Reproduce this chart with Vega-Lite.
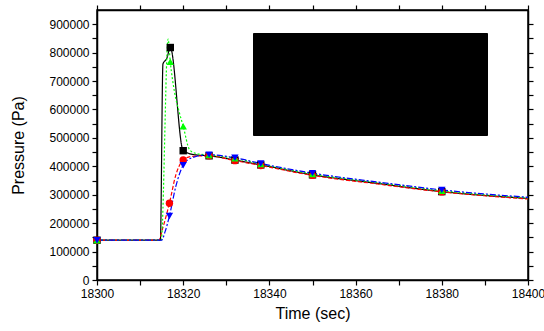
{
  "$schema": "https://vega.github.io/schema/vega-lite/v6.json",
  "autosize": {"type": "none"},
  "width": 431,
  "height": 270,
  "padding": {"left": 97, "top": 10, "right": 16, "bottom": 51},
  "background": "white",
  "config": {
    "font": "Liberation Sans",
    "view": {"stroke": "black", "strokeWidth": 1.5},
    "axis": {
      "labelColor": "black", "titleColor": "black", "tickColor": "black", "domainColor": "black",
      "labelFontSize": 12, "titleFontSize": 16, "titleFontWeight": "normal",
      "grid": false, "domainWidth": 1.5, "tickWidth": 1.2, "labelFont": "Liberation Sans", "titleFont": "Liberation Sans"
    }
  },
  "datasets": {
    "curves": [
      {"t": 18300, "p": 140000, "series": "cell-1 (Base case)"},
      {"t": 18310, "p": 140000, "series": "cell-1 (Base case)"},
      {"t": 18314.7, "p": 140000, "series": "cell-1 (Base case)"},
      {"t": 18315.3, "p": 760000, "series": "cell-1 (Base case)"},
      {"t": 18316.2, "p": 780000, "series": "cell-1 (Base case)"},
      {"t": 18317, "p": 818000, "series": "cell-1 (Base case)"},
      {"t": 18320, "p": 455000, "series": "cell-1 (Base case)"},
      {"t": 18323, "p": 440000, "series": "cell-1 (Base case)"},
      {"t": 18326, "p": 437000, "series": "cell-1 (Base case)"},
      {"t": 18332, "p": 422000, "series": "cell-1 (Base case)"},
      {"t": 18338, "p": 405000, "series": "cell-1 (Base case)"},
      {"t": 18350, "p": 370000, "series": "cell-1 (Base case)"},
      {"t": 18365, "p": 340000, "series": "cell-1 (Base case)"},
      {"t": 18380, "p": 311000, "series": "cell-1 (Base case)"},
      {"t": 18400, "p": 287000, "series": "cell-1 (Base case)"},

      {"t": 18300, "p": 140000, "series": "cell-4 (Base case)"},
      {"t": 18310, "p": 140000, "series": "cell-4 (Base case)"},
      {"t": 18314.3, "p": 140000, "series": "cell-4 (Base case)"},
      {"t": 18315.3, "p": 185000, "series": "cell-4 (Base case)"},
      {"t": 18316.8, "p": 270000, "series": "cell-4 (Base case)"},
      {"t": 18318.3, "p": 370000, "series": "cell-4 (Base case)"},
      {"t": 18320, "p": 422000, "series": "cell-4 (Base case)"},
      {"t": 18322, "p": 435000, "series": "cell-4 (Base case)"},
      {"t": 18326, "p": 437000, "series": "cell-4 (Base case)"},
      {"t": 18332, "p": 420000, "series": "cell-4 (Base case)"},
      {"t": 18338, "p": 403000, "series": "cell-4 (Base case)"},
      {"t": 18350, "p": 368000, "series": "cell-4 (Base case)"},
      {"t": 18365, "p": 338000, "series": "cell-4 (Base case)"},
      {"t": 18380, "p": 310000, "series": "cell-4 (Base case)"},
      {"t": 18400, "p": 285000, "series": "cell-4 (Base case)"},

      {"t": 18300, "p": 140000, "series": "cell-1 (coherence ratio=1)"},
      {"t": 18310, "p": 140000, "series": "cell-1 (coherence ratio=1)"},
      {"t": 18314.9, "p": 140000, "series": "cell-1 (coherence ratio=1)"},
      {"t": 18316.5, "p": 848000, "series": "cell-1 (coherence ratio=1)"},
      {"t": 18317, "p": 768000, "series": "cell-1 (coherence ratio=1)"},
      {"t": 18318, "p": 660000, "series": "cell-1 (coherence ratio=1)"},
      {"t": 18319, "p": 595000, "series": "cell-1 (coherence ratio=1)"},
      {"t": 18320, "p": 541000, "series": "cell-1 (coherence ratio=1)"},
      {"t": 18321.5, "p": 458000, "series": "cell-1 (coherence ratio=1)"},
      {"t": 18323, "p": 445000, "series": "cell-1 (coherence ratio=1)"},
      {"t": 18326, "p": 440000, "series": "cell-1 (coherence ratio=1)"},
      {"t": 18332, "p": 428000, "series": "cell-1 (coherence ratio=1)"},
      {"t": 18338, "p": 408000, "series": "cell-1 (coherence ratio=1)"},
      {"t": 18350, "p": 373000, "series": "cell-1 (coherence ratio=1)"},
      {"t": 18365, "p": 343000, "series": "cell-1 (coherence ratio=1)"},
      {"t": 18380, "p": 314000, "series": "cell-1 (coherence ratio=1)"},
      {"t": 18400, "p": 289000, "series": "cell-1 (coherence ratio=1)"},

      {"t": 18300, "p": 140000, "series": "cell-4 (coherence ratio=1)"},
      {"t": 18310, "p": 140000, "series": "cell-4 (coherence ratio=1)"},
      {"t": 18315, "p": 140000, "series": "cell-4 (coherence ratio=1)"},
      {"t": 18315.8, "p": 170000, "series": "cell-4 (coherence ratio=1)"},
      {"t": 18316.8, "p": 225000, "series": "cell-4 (coherence ratio=1)"},
      {"t": 18318.3, "p": 330000, "series": "cell-4 (coherence ratio=1)"},
      {"t": 18320, "p": 404000, "series": "cell-4 (coherence ratio=1)"},
      {"t": 18322, "p": 430000, "series": "cell-4 (coherence ratio=1)"},
      {"t": 18326, "p": 441000, "series": "cell-4 (coherence ratio=1)"},
      {"t": 18332, "p": 430000, "series": "cell-4 (coherence ratio=1)"},
      {"t": 18338, "p": 410000, "series": "cell-4 (coherence ratio=1)"},
      {"t": 18350, "p": 376000, "series": "cell-4 (coherence ratio=1)"},
      {"t": 18365, "p": 345000, "series": "cell-4 (coherence ratio=1)"},
      {"t": 18380, "p": 317000, "series": "cell-4 (coherence ratio=1)"},
      {"t": 18400, "p": 291000, "series": "cell-4 (coherence ratio=1)"}
    ],
    "samples": [
      {"t": 18300, "p": 140000, "series": "cell-1 (Base case)"},
      {"t": 18317, "p": 818000, "series": "cell-1 (Base case)"},
      {"t": 18320, "p": 455000, "series": "cell-1 (Base case)"},
      {"t": 18326, "p": 437000, "series": "cell-1 (Base case)"},
      {"t": 18332, "p": 422000, "series": "cell-1 (Base case)"},
      {"t": 18338, "p": 405000, "series": "cell-1 (Base case)"},
      {"t": 18350, "p": 370000, "series": "cell-1 (Base case)"},
      {"t": 18380, "p": 311000, "series": "cell-1 (Base case)"},
      {"t": 18300, "p": 140000, "series": "cell-4 (Base case)"},
      {"t": 18316.8, "p": 270000, "series": "cell-4 (Base case)"},
      {"t": 18320, "p": 422000, "series": "cell-4 (Base case)"},
      {"t": 18326, "p": 437000, "series": "cell-4 (Base case)"},
      {"t": 18332, "p": 420000, "series": "cell-4 (Base case)"},
      {"t": 18338, "p": 403000, "series": "cell-4 (Base case)"},
      {"t": 18350, "p": 368000, "series": "cell-4 (Base case)"},
      {"t": 18380, "p": 310000, "series": "cell-4 (Base case)"},
      {"t": 18300, "p": 140000, "series": "cell-1 (coherence ratio=1)"},
      {"t": 18317, "p": 768000, "series": "cell-1 (coherence ratio=1)"},
      {"t": 18320, "p": 541000, "series": "cell-1 (coherence ratio=1)"},
      {"t": 18326, "p": 440000, "series": "cell-1 (coherence ratio=1)"},
      {"t": 18332, "p": 428000, "series": "cell-1 (coherence ratio=1)"},
      {"t": 18338, "p": 408000, "series": "cell-1 (coherence ratio=1)"},
      {"t": 18350, "p": 373000, "series": "cell-1 (coherence ratio=1)"},
      {"t": 18380, "p": 314000, "series": "cell-1 (coherence ratio=1)"},
      {"t": 18300, "p": 140000, "series": "cell-4 (coherence ratio=1)"},
      {"t": 18316.8, "p": 225000, "series": "cell-4 (coherence ratio=1)"},
      {"t": 18320, "p": 404000, "series": "cell-4 (coherence ratio=1)"},
      {"t": 18326, "p": 441000, "series": "cell-4 (coherence ratio=1)"},
      {"t": 18332, "p": 430000, "series": "cell-4 (coherence ratio=1)"},
      {"t": 18338, "p": 410000, "series": "cell-4 (coherence ratio=1)"},
      {"t": 18350, "p": 376000, "series": "cell-4 (coherence ratio=1)"},
      {"t": 18380, "p": 317000, "series": "cell-4 (coherence ratio=1)"}
    ]
  },
  "resolve": {"axis": {"x": "independent", "y": "independent"}},
  "layer": [
    {
      "data": {"name": "curves"},
      "mark": {"type": "line", "interpolate": "monotone", "strokeWidth": 1.2},
      "encoding": {
        "x": {"field": "t", "type": "quantitative", "scale": {"domain": [18300, 18400], "nice": false, "zero": false},
          "axis": {"orient": "bottom", "title": "Time (sec)", "values": [18300, 18310, 18320, 18330, 18340, 18350, 18360, 18370, 18380, 18390, 18400],
            "labelExpr": "datum.value % 20 === 0 ? datum.label : ''", "format": "d", "tickSize": 5, "labelPadding": 3, "titlePadding": 6, "labelFlush": false}},
        "y": {"field": "p", "type": "quantitative", "scale": {"domain": [0, 950000], "nice": false},
          "axis": {"orient": "left", "title": "Pressure (Pa)", "values": [0, 50000, 100000, 150000, 200000, 250000, 300000, 350000, 400000, 450000, 500000, 550000, 600000, 650000, 700000, 750000, 800000, 850000, 900000],
            "labelExpr": "datum.value % 100000 === 0 ? datum.label : ''", "format": "d", "tickSize": 5, "labelPadding": 3, "titlePadding": 22}},
        "color": {"field": "series", "type": "nominal",
          "scale": {"domain": ["cell-1 (Base case)", "cell-4 (Base case)", "cell-1 (coherence ratio=1)", "cell-4 (coherence ratio=1)"], "range": ["#000000", "#ff0000", "#00ff00", "#0000ff"]},
          "legend": null},
        "opacity": {"field": "series", "type": "nominal",
          "scale": {"range": [1, 1, 1, 1]},
          "legend": {"orient": "none", "legendX": 156, "legendY": 23, "title": null,
            "fillColor": "black", "strokeColor": "black", "labelColor": "black", "labelFontSize": 15.5, "labelFont": "Liberation Sans",
            "symbolSize": 1600, "clipHeight": 15, "rowPadding": 6, "padding": 10, "symbolOffset": 10, "labelOffset": 5,
            "symbolStrokeColor": "black", "symbolFillColor": "black", "symbolType": "stroke"}},
        "strokeDash": {"field": "series", "type": "nominal",
          "scale": {"domain": ["cell-1 (Base case)", "cell-4 (Base case)", "cell-1 (coherence ratio=1)", "cell-4 (coherence ratio=1)"], "range": [[1, 0], [4, 2], [2, 2], [6, 2, 2, 2]]},
          "legend": {"orient": "none", "legendX": 150, "legendY": 17, "title": null,
            "fillColor": "white", "strokeColor": "black", "labelColor": "black", "labelFontSize": 15.5, "labelFont": "Liberation Sans",
            "symbolSize": 1600, "clipHeight": 15, "rowPadding": 6, "padding": 10, "symbolOffset": 10, "labelOffset": 5}}
      }
    },
    {
      "data": {"name": "samples"},
      "mark": {"type": "point", "filled": true, "opacity": 1, "size": 55},
      "encoding": {
        "x": {"field": "t", "type": "quantitative",
          "axis": {"orient": "top", "labels": false, "title": null, "values": [18300, 18310, 18320, 18330, 18340, 18350, 18360, 18370, 18380, 18390, 18400]}},
        "y": {"field": "p", "type": "quantitative",
          "axis": {"orient": "right", "labels": false, "title": null, "values": [0, 50000, 100000, 150000, 200000, 250000, 300000, 350000, 400000, 450000, 500000, 550000, 600000, 650000, 700000, 750000, 800000, 850000, 900000]}},
        "color": {"field": "series", "type": "nominal", "legend": null},
        "shape": {"field": "series", "type": "nominal",
          "scale": {"domain": ["cell-1 (Base case)", "cell-4 (Base case)", "cell-1 (coherence ratio=1)", "cell-4 (coherence ratio=1)"], "range": ["square", "circle", "triangle-up", "triangle-down"]},
          "legend": null}
      }
    }
  ]
}
